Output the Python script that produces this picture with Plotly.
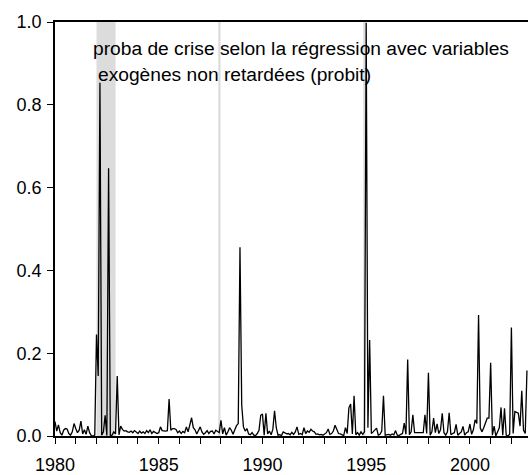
import numpy as np
import plotly.graph_objects as go

# probabilité mensuelle de crise (probit), 1980:01 - 2002:10
y1980 = [0.035, 0.012, 0.027, 0.008, 0.002, 0.014, 0.018, 0.017, 0.006, 0.002, 0.010, 0.030]
y1981 = [0.018, 0.008, 0.014, 0.036, 0.005, 0.015, 0.004, 0.024, 0.008, 0.001, 0.000, 0.002]
y1982 = [0.245, 0.145, 0.853, 0.002, 0.010, 0.050, 0.001, 0.647, 0.000, 0.002, 0.010, 0.005]
y1983 = [0.145, 0.003, 0.024, 0.016, 0.012, 0.013, 0.010, 0.009, 0.012, 0.008, 0.013, 0.009]
y1984 = [0.006, 0.012, 0.007, 0.010, 0.006, 0.013, 0.008, 0.015, 0.006, 0.011, 0.009, 0.006]
y1985 = [0.008, 0.022, 0.013, 0.012, 0.012, 0.013, 0.089, 0.014, 0.018, 0.018, 0.016, 0.008]
y1986 = [0.012, 0.006, 0.011, 0.008, 0.022, 0.010, 0.028, 0.044, 0.020, 0.015, 0.005, 0.012]
y1987 = [0.022, 0.010, 0.004, 0.008, 0.013, 0.006, 0.011, 0.012, 0.005, 0.014, 0.010, 0.008]
y1988 = [0.038, 0.005, 0.020, 0.002, 0.010, 0.020, 0.014, 0.004, 0.015, 0.025, 0.030, 0.456]
y1989 = [0.075, 0.022, 0.012, 0.018, 0.005, 0.003, 0.008, 0.002, 0.001, 0.006, 0.014, 0.050]
y1990 = [0.053, 0.002, 0.055, 0.005, 0.012, 0.003, 0.016, 0.061, 0.020, 0.002, 0.003, 0.001]
y1991 = [0.010, 0.008, 0.005, 0.006, 0.003, 0.009, 0.004, 0.010, 0.022, 0.004, 0.006, 0.003]
y1992 = [0.020, 0.006, 0.012, 0.009, 0.016, 0.012, 0.010, 0.004, 0.005, 0.003, 0.004, 0.002]
y1993 = [0.004, 0.008, 0.017, 0.004, 0.006, 0.012, 0.026, 0.015, 0.006, 0.005, 0.002, 0.001]
y1994 = [0.020, 0.006, 0.068, 0.077, 0.005, 0.097, 0.003, 0.008, 0.002, 0.010, 0.004, 0.010]
y1995 = [0.998, 0.020, 0.232, 0.006, 0.010, 0.014, 0.019, 0.002, 0.004, 0.012, 0.097, 0.002]
y1996 = [0.003, 0.004, 0.002, 0.005, 0.003, 0.013, 0.002, 0.001, 0.004, 0.006, 0.031, 0.004]
y1997 = [0.185, 0.003, 0.010, 0.051, 0.008, 0.008, 0.008, 0.008, 0.007, 0.008, 0.051, 0.006]
y1998 = [0.153, 0.002, 0.010, 0.043, 0.008, 0.029, 0.006, 0.015, 0.055, 0.008, 0.002, 0.010]
y1999 = [0.056, 0.003, 0.006, 0.008, 0.028, 0.002, 0.006, 0.010, 0.023, 0.002, 0.008, 0.010]
y2000 = [0.029, 0.004, 0.015, 0.039, 0.030, 0.292, 0.019, 0.010, 0.020, 0.030, 0.043, 0.043]
y2001 = [0.177, 0.002, 0.024, 0.000, 0.010, 0.020, 0.069, 0.002, 0.067, 0.002, 0.000, 0.004]
y2002 = [0.262, 0.006, 0.059, 0.057, 0.055, 0.024, 0.109, 0.014, 0.006, 0.158]

# périodes de crise (zones grisées)
crises = [(1982.0, 1982.92), (1987.87, 1987.98), (1994.86, 1994.96)]

years = [y1980, y1981, y1982, y1983, y1984, y1985, y1986, y1987, y1988, y1989, y1990, y1991,
         y1992, y1993, y1994, y1995, y1996, y1997, y1998, y1999, y2000, y2001, y2002]
proba = [v for yr in years for v in yr]
t = 1980 + np.arange(len(proba)) / 12.0

fig = go.Figure()
for x0, x1 in crises:
    fig.add_vrect(x0=x0, x1=x1, fillcolor='#dcdcdc', line_width=0, layer='below')

fig.add_trace(go.Scatter(x=t, y=proba, mode='lines', line=dict(color='black', width=1.3)))

font = 'Liberation Sans, Arial, sans-serif'
fig.add_annotation(text='proba de crise selon la régression avec variables', xref='paper', yref='paper',
                   x=0.076, y=0.937, xanchor='left', yanchor='middle', showarrow=False,
                   font=dict(family=font, size=19.2, color='black'))
fig.add_annotation(text='exogènes non retardées (probit)', xref='paper', yref='paper',
                   x=0.087, y=0.872, xanchor='left', yanchor='middle', showarrow=False,
                   font=dict(family=font, size=19.2, color='black'))

fig.update_layout(
    width=528, height=475,
    margin=dict(l=55, r=0, t=22, b=39),
    plot_bgcolor='white', paper_bgcolor='white',
    showlegend=False,
    font=dict(family=font, size=18, color='black'),
)
fig.update_xaxes(range=[1980, 2002.8], showgrid=False, zeroline=False,
                 showline=True, linecolor='black', linewidth=1.5, mirror=True,
                 tickvals=[1980, 1985, 1990, 1995, 2000], ticks='outside', ticklen=6,
                 tickcolor='black', tickwidth=1.2, ticklabelstandoff=6,
                 minor=dict(dtick=1, tick0=1980, ticks='outside', ticklen=6, tickcolor='black', tickwidth=1.2))
fig.update_yaxes(range=[0, 1], showgrid=False, zeroline=False,
                 showline=True, linecolor='black', linewidth=1.5,
                 tickvals=[0, 0.2, 0.4, 0.6, 0.8, 1.0], tickformat='.1f',
                 ticks='outside', ticklen=6, tickcolor='black', tickwidth=1.2, ticklabelstandoff=2)

fig.write_html('out.html', config={'displayModeBar': False},
               post_script="document.body.style.margin='0px';")
